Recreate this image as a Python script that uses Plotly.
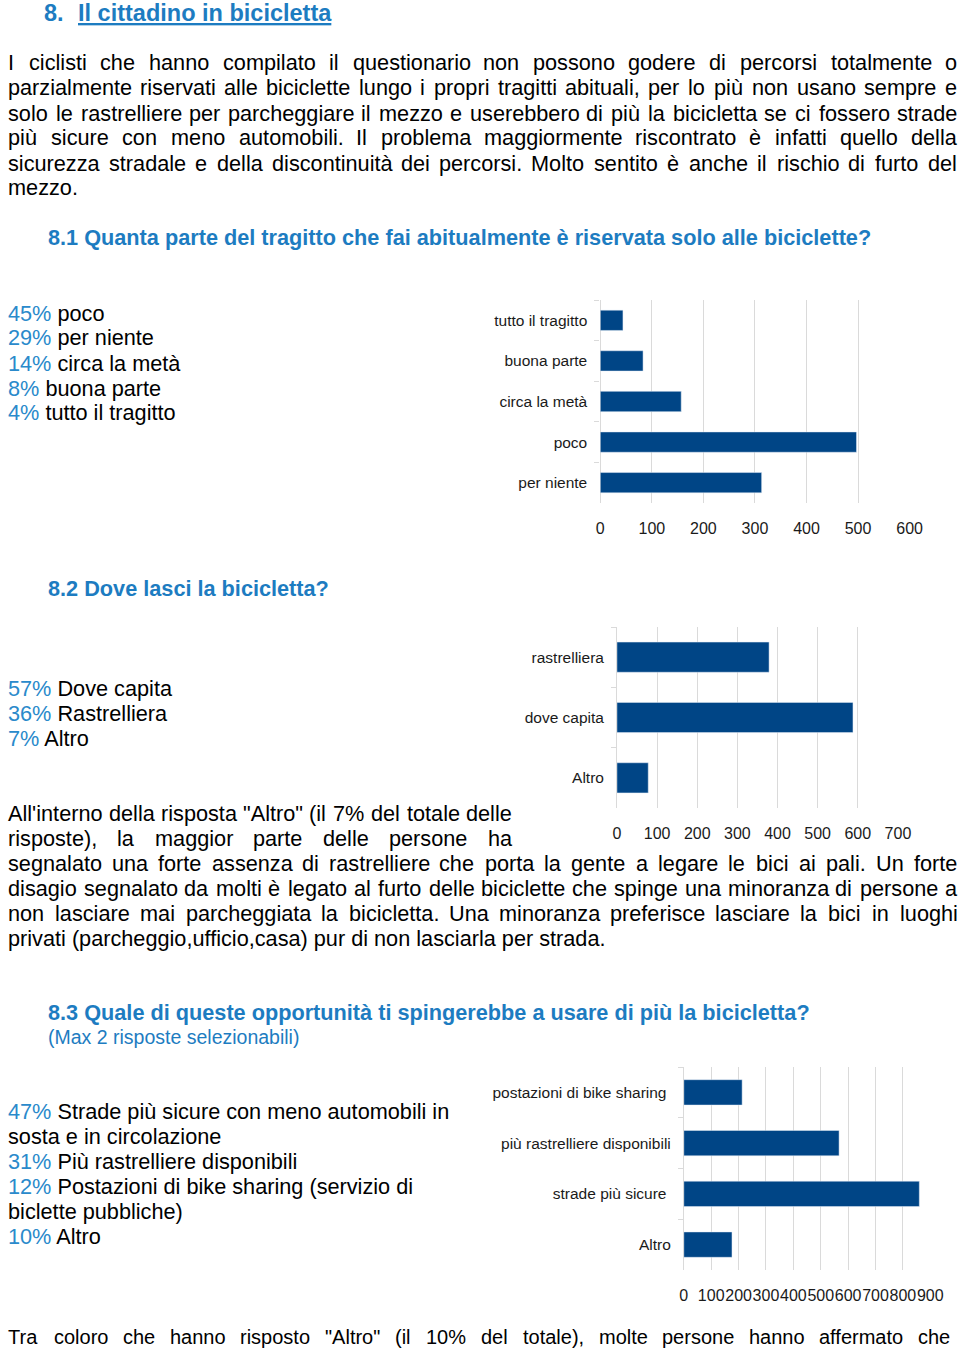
import plotly.graph_objects as go

# la cattura orizzontale risulta compressa (~0.985): la figura è più larga
# e le coordinate orizzontali vengono corrette di conseguenza
W, H = 975, 1351
SX = 0.9846
DX = 2.5
FONT = "Liberation Sans, Arial, sans-serif"
BODY = 21.7
BLUE_HEAD = "#1d7cc1"
BLUE_PCT = "#2a8acb"
BAR = "#004586"
GRID = "#dadada"

# ---- dati dei grafici ----
cat1 = ["tutto il tragitto", "buona parte", "circa la metà", "poco", "per niente"]
val1 = [44, 83, 157, 497, 313]
ticks1 = [0, 100, 200, 300, 400, 500, 600]

cat2 = ["rastrelliera", "dove capita", "Altro"]
val2 = [379, 588, 78]
ticks2 = [0, 100, 200, 300, 400, 500, 600, 700]

cat3 = ["postazioni di bike sharing\u00a0", "più rastrelliere disponibili", "strade più sicure\u00a0", "Altro"]
val3 = [213, 567, 860, 176]
ticks3 = [0, 100, 200, 300, 400, 500, 600, 700, 800, 900]

# ---- testi ----
title_num = "8."
title_txt = "Il cittadino in bicicletta"

para1 = [
    "I ciclisti che hanno compilato il questionario non possono godere di percorsi totalmente o",
    "parzialmente riservati alle biciclette lungo i propri tragitti abituali, per lo più non usano sempre e",
    "solo le rastrelliere per parcheggiare il mezzo e userebbero di più la bicicletta se ci fossero strade",
    "più sicure con meno automobili. Il problema maggiormente riscontrato è infatti quello della",
    "sicurezza stradale e della discontinuità dei percorsi. Molto sentito è anche il rischio di furto del",
    "mezzo.",
]
head1 = "8.1 Quanta parte del tragitto che fai abitualmente è riservata solo alle biciclette?"
leg1_pct = ["45%", "29%", "14%", "8%", "4%"]
leg1_txt = ["poco", "per niente", "circa la metà", "buona parte", "tutto il tragitto"]

head2 = "8.2 Dove lasci la bicicletta?"
leg2_pct = ["57%", "36%", "7%"]
leg2_txt = ["Dove capita", "Rastrelliera", "Altro"]

para2_narrow = [
    "All'interno della risposta \"Altro\" (il 7% del totale delle",
    "risposte), la maggior parte delle persone ha",
]
para2_wide = [
    "segnalato una forte assenza di rastrelliere che porta la gente a legare le bici ai pali. Un forte",
    "disagio segnalato da molti è legato al furto delle biciclette che spinge una minoranza di persone a",
    "non lasciare mai parcheggiata la bicicletta. Una minoranza preferisce lasciare la bici in luoghi",
    "privati (parcheggio,ufficio,casa) pur di non lasciarla per strada.",
]

head3 = "8.3 Quale di queste opportunità ti spingerebbe a usare di più la bicicletta?"
head3_sub = "(Max 2 risposte selezionabili)"
leg3_pct = ["47%", "", "31%", "12%", "", "10%"]
leg3_txt = ["Strade più sicure con meno automobili in", "sosta e in circolazione",
            "Più rastrelliere disponibili", "Postazioni di bike sharing (servizio di",
            "biclette pubbliche)", "Altro"]

last_line = "Tra coloro che hanno risposto \"Altro\" (il 10% del totale), molte persone hanno affermato che"

# larghezze Arial (unità /1000) per giustificare il testo
ARIAL = {
    " ": 278, "!": 278, "\"": 355, "%": 889, "'": 191, "(": 333, ")": 333, ",": 278,
    "-": 333, ".": 278, "?": 556, ":": 278,
    "A": 667, "B": 667, "C": 722, "D": 722, "E": 667, "F": 611, "G": 778, "H": 722,
    "I": 278, "J": 500, "K": 667, "L": 556, "M": 833, "N": 722, "O": 778, "P": 667,
    "Q": 778, "R": 722, "S": 667, "T": 611, "U": 722, "V": 667, "W": 944, "X": 667,
    "Y": 667, "Z": 611,
    "a": 556, "b": 556, "c": 500, "d": 556, "e": 556, "f": 278, "g": 556, "h": 556,
    "i": 222, "j": 222, "k": 500, "l": 222, "m": 833, "n": 556, "o": 556, "p": 556,
    "q": 556, "r": 333, "s": 500, "t": 278, "u": 556, "v": 500, "w": 722, "x": 500,
    "y": 500, "z": 500, "à": 556, "è": 556, "é": 556, "ù": 556, "ì": 222, "ò": 556,
}


def fx(x):
    # pixel dello schermo -> pixel della figura
    return (x - DX) / SX


def px(x):
    return fx(x) / W


def py(y):
    return 1 - y / H


def text_w(s, size):
    return sum(ARIAL.get(ch, 556) for ch in s) * size / 1000


def word(xf, y, text, size, color="#000000"):
    return dict(x=xf / W, y=py(y), xref="paper", yref="paper", text=text,
                showarrow=False, xanchor="left", yanchor="middle",
                borderpad=0, borderwidth=0,
                font=dict(family=FONT, size=size, color=color))


def note(x, y, text, size=BODY, color="#000000"):
    return word(fx(x), y, text, size, color)


def justified(line, y, x0, x1, size=BODY):
    words = line.split(" ")
    widths = [text_w(w, size) for w in words]
    a, b = fx(x0), fx(x1)
    gap = (b - a - sum(widths)) / (len(words) - 1)
    out = []
    x = a
    for w, wd in zip(words, widths):
        out.append(word(x, y, w, size))
        x += wd + gap
    return out


ann = []
# titolo
ann.append(note(43, 13, "<b>" + title_num + "</b>", 23.5, BLUE_HEAD))
ann.append(note(77, 13, "<b><u>" + title_txt + "</u></b>", 23.5, BLUE_HEAD))

# paragrafo 1
for i, line in enumerate(para1):
    y = 63 + 25 * i
    if i < len(para1) - 1:
        ann += justified(line, y, 7, 957)
    else:
        ann.append(note(7, y, line))

ann.append(note(47, 238, "<b>" + head1 + "</b>", 21.7, BLUE_HEAD))
for i, (p, t) in enumerate(zip(leg1_pct, leg1_txt)):
    ann.append(note(7, 313 + 25 * i, f"<span style='color:{BLUE_PCT}'>{p}</span> {t}"))

ann.append(note(47, 588, "<b>" + head2 + "</b>", 21.7, BLUE_HEAD))
for i, (p, t) in enumerate(zip(leg2_pct, leg2_txt)):
    ann.append(note(7, 688 + 25 * i, f"<span style='color:{BLUE_PCT}'>{p}</span> {t}"))

# paragrafo 2
for i, line in enumerate(para2_narrow):
    ann += justified(line, 813 + 25 * i, 7, 511)
for i, line in enumerate(para2_wide):
    y = 863 + 25 * i
    if i < len(para2_wide) - 1:
        ann += justified(line, y, 7, 957)
    else:
        ann.append(note(7, y, line))

ann.append(note(47, 1013, "<b>" + head3 + "</b>", 21.7, BLUE_HEAD))
ann.append(note(47, 1037, head3_sub, 19.5, BLUE_HEAD))
for i, (p, t) in enumerate(zip(leg3_pct, leg3_txt)):
    txt = f"<span style='color:{BLUE_PCT}'>{p}</span> {t}" if p else t
    ann.append(note(7, 1111 + 25 * i, txt))

# l'ultima riga nel documento è più stretta
ann += justified(last_line, 1337, 7, 950, size=20)

fig = go.Figure()
fig.add_trace(go.Bar(x=val1, y=cat1, orientation="h", marker_color=BAR, xaxis="x", yaxis="y"))
fig.add_trace(go.Bar(x=val2, y=cat2, orientation="h", marker_color=BAR, xaxis="x2", yaxis="y2"))
fig.add_trace(go.Bar(x=val3, y=cat3, orientation="h", marker_color=BAR, xaxis="x3", yaxis="y3"))


def xax(dom, rng, tv, anchor):
    return dict(domain=[px(dom[0]), px(dom[1])], range=rng, tickvals=tv, anchor=anchor,
                showgrid=True, gridcolor=GRID, gridwidth=1, zeroline=True, zerolinecolor=GRID,
                zerolinewidth=1, showline=False, ticks="", tickangle=0, ticklabelstandoff=14,
                tickfont=dict(family=FONT, size=16, color="#1a1a1a"), fixedrange=True)


def yax(top, bottom, cats, anchor):
    return dict(domain=[py(bottom), py(top)], type="category", categoryorder="array",
                categoryarray=cats, autorange="reversed", anchor=anchor, showgrid=False,
                ticks="outside", tickson="boundaries", ticklen=5, tickcolor=GRID,
                ticklabelstandoff=12, showline=False, zeroline=False,
                tickfont=dict(family=FONT, size=15.5, color="#1a1a1a"), fixedrange=True)


fig.update_layout(
    width=W, height=H,
    margin=dict(l=0, r=0, t=0, b=0),
    paper_bgcolor="white", plot_bgcolor="white",
    showlegend=False, bargap=0.5,
    xaxis=xax((600, 910), [0, 600], ticks1, "y"),
    yaxis=yax(300, 503, cat1, "x"),
    xaxis2=xax((616.7, 898.3), [0, 700], ticks2, "y2"),
    yaxis2=yax(627, 808, cat2, "x2"),
    xaxis3=xax((683.7, 930.7), [0, 900], ticks3, "y3"),
    yaxis3=yax(1067, 1270, cat3, "x3"),
    annotations=ann,
)

# niente margine della pagina: la figura parte dall'angolo della finestra
fig.write_html("out.html", config={"displayModeBar": False},
               post_script="document.body.style.margin='0';document.body.style.overflow='hidden';")
